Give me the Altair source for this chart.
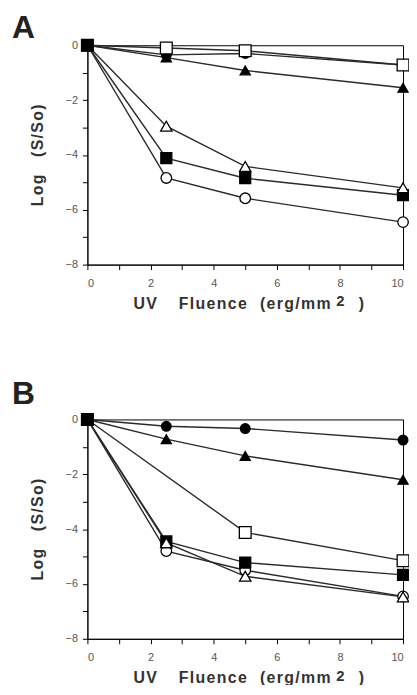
import altair as alt
import pandas as pd

fluence = [0, 2.5, 5, 10]

series = ["filled_circle", "filled_triangle", "open_circle", "filled_square", "open_triangle", "open_square"]
shapes = ["circle", "triangle-up", "circle", "square", "triangle-up", "square"]
fills = ["black", "black", "white", "black", "white", "white"]
sizes = [95, 140, 95, 110, 140, 110]

# Panel A
a_filled_circle = [0, -0.35, -0.3, -0.72]
a_filled_triangle = [0, -0.45, -0.92, -1.55]
a_open_circle = [0, -4.84, -5.58, -6.45]
a_filled_square = [0, -4.12, -4.85, -5.47]
a_open_triangle = [0, -2.95, -4.42, -5.2]
a_open_square = [0, -0.1, -0.2, -0.72]

# Panel B
b_filled_circle = [0, -0.25, -0.33, -0.75]
b_filled_triangle = [0, -0.72, -1.33, -2.2]
b_open_circle = [0, -4.8, -5.5, -6.45]
b_filled_square = [0, -4.45, -5.22, -5.67]
b_open_triangle = [0, -4.5, -5.72, -6.47]
b_open_square = [0, None, -4.12, -5.15]

x_ticks = list(range(0, 11))
y_ticks = list(range(-8, 1))

NB = "\u00a0"
HS = "\u200a"


def track(word):
    return HS.join(word)


x_title_main = track("UV") + NB * 5 + track("Fluence") + NB * 3 + track("(erg/mm")
x_title_sup = "2"
x_title_end = ")"
y_title = track("Log") + NB * 4 + track("(S/So)")

FONT = "Liberation Sans"
TCOL = "#333333"
W, H = 318, 221


def table(cols):
    rows = []
    for s, vals in zip(series, cols):
        for x, y in zip(fluence, vals):
            if y is not None:
                rows.append({"s": s, "x": x, "y": y})
    return pd.DataFrame(rows)


def label_text(txt, x, y, align, size=16):
    return alt.Chart(pd.DataFrame({"t": [txt]})).mark_text(
        font=FONT, fontSize=size, fontWeight="bold", color=TCOL, align=align,
        baseline="alphabetic"
    ).encode(text="t:N", x=alt.value(x), y=alt.value(y))


def panel(label, cols, title_offset):
    df = table(cols)
    base = alt.Chart(df).encode(
        x=alt.X("x:Q", scale=alt.Scale(domain=[0, 10], nice=False, zero=False),
                axis=alt.Axis(values=x_ticks,
                              labelExpr="datum.value % 2 == 0 ? datum.label : ''",
                              title="", grid=False)),
        y=alt.Y("y:Q", scale=alt.Scale(domain=[-8, 0], nice=False, zero=False),
                axis=alt.Axis(values=y_ticks,
                              labelExpr="datum.value % 2 == 0 ? datum.label : ''",
                              title=y_title, grid=False)),
    )
    lines = base.mark_line(color="#2a2a2a", strokeWidth=1.4).encode(detail="s:N")
    pts = base.mark_point(opacity=1, stroke="black", strokeWidth=1.3).encode(
        shape=alt.Shape("s:N", scale=alt.Scale(domain=series, range=shapes), legend=None),
        fill=alt.Fill("s:N", scale=alt.Scale(domain=series, range=fills), legend=None),
        size=alt.Size("s:N", scale=alt.Scale(domain=series, range=sizes), legend=None),
        order=alt.Order("ord:Q"),
    ).transform_calculate(
        ord="indexof(" + str(series) + ", datum.s) + (datum.x == 0 && indexof(datum.s, 'filled') == 0 ? 10 : 0)"
    )
    t_main = label_text(x_title_main, 245, H + 45, "right")
    t_sup = label_text(x_title_sup, 255, H + 42, "center", 15)
    t_end = label_text(x_title_end, 276, H + 45, "center")
    return alt.layer(lines, pts, t_main, t_sup, t_end).properties(
        width=W, height=H,
        title=alt.TitleParams(label, anchor="start", frame="group", fontSize=32, fontWeight="bold",
                              font=FONT, dx=-76, offset=title_offset, color="#222222"),
    )


chart = alt.vconcat(
    panel("A", [a_filled_circle, a_filled_triangle, a_open_circle, a_filled_square, a_open_triangle, a_open_square], -8),
    panel("B", [b_filled_circle, b_filled_triangle, b_open_circle, b_filled_square, b_open_triangle, b_open_square], 0),
    spacing=64,
).properties(padding={"left": 3, "top": 0, "right": -4, "bottom": -5}).configure_view(
    stroke="black", strokeWidth=1
).configure_axis(
    domainColor="black", tickColor="black", tickSize=5, labelFont=FONT, labelFontSize=11,
    labelColor="#555555", titleFont=FONT, titleFontSize=16, titleFontWeight="bold",
    titleColor=TCOL,
).configure_axisX(labelPadding=8).configure_axisY(titlePadding=20, labelPadding=5)

chart.save("out.html", embed_options={"renderer": "svg", "actions": False})
